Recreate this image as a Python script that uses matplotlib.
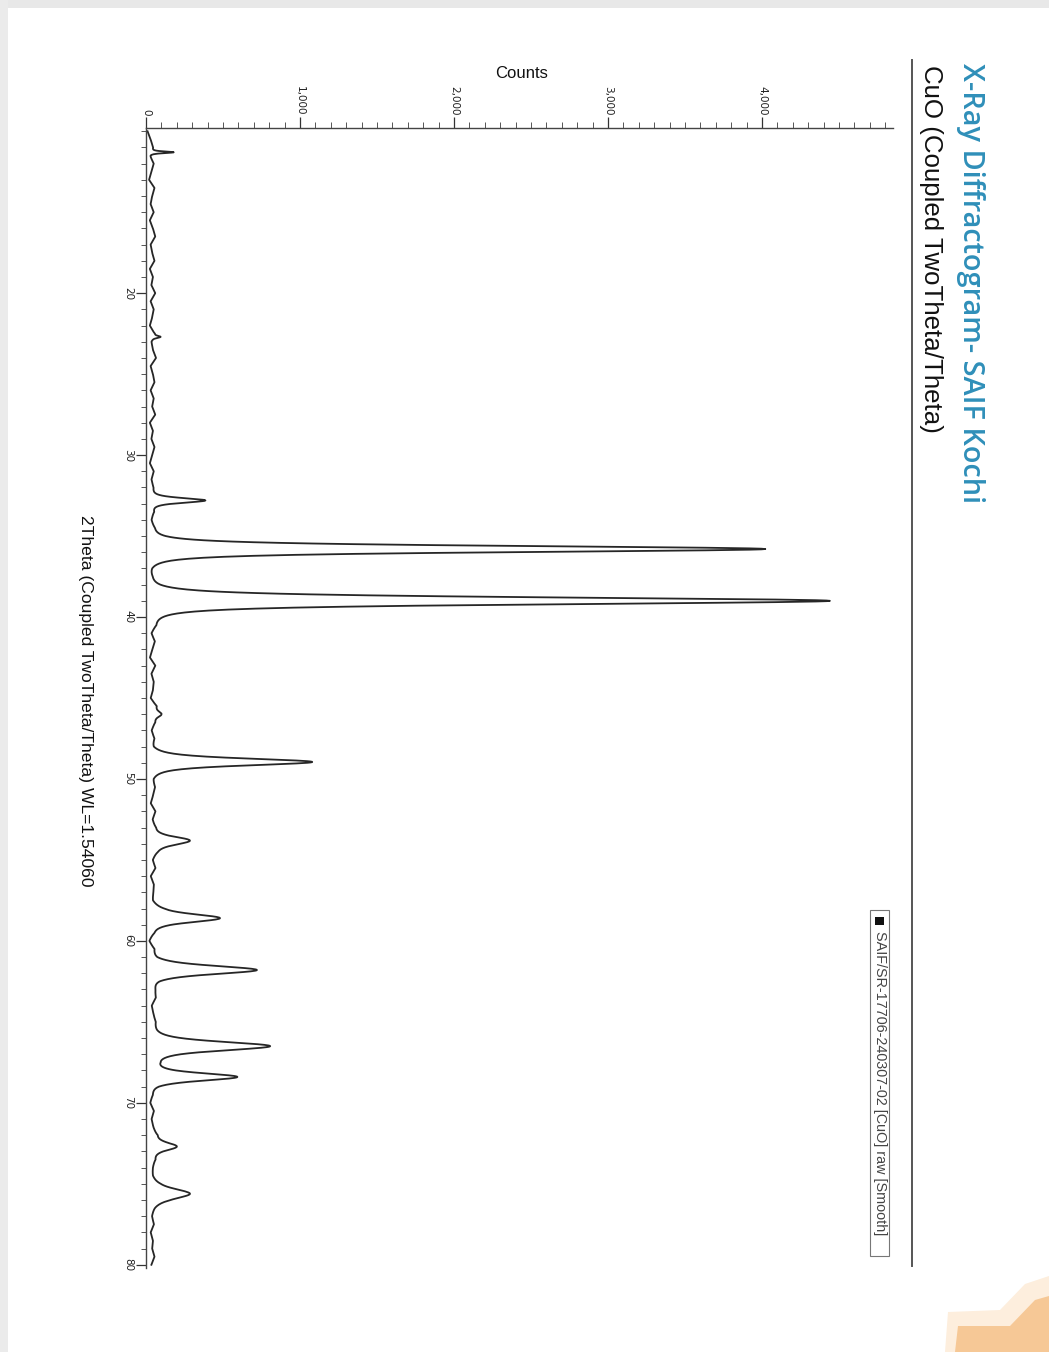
import numpy as np
import matplotlib
matplotlib.use("Agg")
import matplotlib.pyplot as plt
from matplotlib.ticker import MultipleLocator, FuncFormatter
from matplotlib.patches import Rectangle, Polygon

W, H = 1049, 1352

# Reflections of the CuO pattern: position (2theta, deg), top of peak (counts), FWHM (deg)
peak_2theta = [11.3, 22.7, 32.8, 35.8, 39.0, 46.0, 48.95, 53.8, 58.6, 61.8, 66.5, 68.4, 72.7, 75.6]
peak_counts = [180, 95, 385, 4020, 4440, 100, 1080, 285, 480, 720, 805, 590, 200, 285]
peak_fwhm = [0.12, 0.15, 0.35, 0.45, 0.50, 0.40, 0.50, 0.60, 0.60, 0.60, 0.65, 0.55, 0.60, 0.70]

# Background counts, every 0.5 deg from 10 to 80
bg_2theta = [10 + 0.5 * i for i in range(141)]
bg_counts = [10, 30, 45, 25, 50, 35, 20, 55, 40, 30,
             50, 25, 45, 60, 30, 40, 55, 25, 45, 35,
             60, 30, 50, 40, 25, 55, 35, 45, 65, 30,
             45, 55, 30, 50, 40, 60, 25, 45, 35, 55,
             40, 25, 50, 35, 45, 30, 20, 45, 30, 40,
             25, 30, 35, 15, 10, 20, 15, 25, 30, 20,
             35, 50, 30, 55, 40, 25, 60, 35, 50, 45,
             30, 65, 40, 55, 35, 50, 30, 45, 60, 40,
             35, 55, 45, 30, 60, 40, 50, 25, 45, 55,
             40, 60, 30, 50, 45, 35, 55, 40, 20, 35,
             15, 45, 30, 55, 40, 25, 50, 60, 35, 45,
             55, 40, 30, 35, 25, 45, 30, 40, 20, 35,
             25, 50, 35, 45, 60, 30, 25, 50, 40, 35,
             45, 30, 55, 40, 35, 50, 30, 45, 40, 55,
             35]

count_ticks = [0, 1000, 2000, 3000, 4000]
theta_ticks = [20, 30, 40, 50, 60, 70, 80]

title = "X-Ray Diffractogram- SAIF Kochi"
subtitle = "CuO (Coupled TwoTheta/Theta)"
xlabel = "2Theta (Coupled TwoTheta/Theta) WL=1.54060"
ylabel = "Counts"
legend_label = "SAIF/SR-17706-240307-02 [CuO] raw [Smooth]"

# Build the diffractogram: Pearson VII profiles on top of the background
tt = np.arange(10.0, 80.001, 0.02)
bg = np.interp(tt, bg_2theta, bg_counts)
profile = bg.copy()
m = 2.0
k = 2 ** (1 / m) - 1
for pos, top, w in zip(peak_2theta, peak_counts, peak_fwhm):
    amp = top - np.interp(pos, bg_2theta, bg_counts)
    profile += amp * (1 + k * (2 * (tt - pos) / w) ** 2) ** (-m)

fig = plt.figure(figsize=(W / 100, H / 100), dpi=100)
fig.patch.set_facecolor("white")


def fx(x):
    return x / W


def fy(y):
    return 1 - y / H


# page edges
fig.patches.append(Rectangle((0, fy(8)), 1, 8 / H, transform=fig.transFigure,
                             facecolor="#e8e8e8", edgecolor="none", zorder=0))
fig.patches.append(Rectangle((0, 0), 8 / W, 1, transform=fig.transFigure,
                             facecolor="#ebebeb", edgecolor="none", zorder=0))
# logo corner
halo = [(945, 1352), (948, 1312), (1000, 1310), (1025, 1284), (1049, 1276), (1049, 1352)]
fig.patches.append(Polygon([(fx(x), fy(y)) for x, y in halo], closed=True,
                           transform=fig.transFigure, facecolor="#fdeedd",
                           edgecolor="none", zorder=0))
logo = [(955, 1352), (958, 1326), (1010, 1326), (1035, 1300), (1049, 1296), (1049, 1352)]
fig.patches.append(Polygon([(fx(x), fy(y)) for x, y in logo], closed=True,
                           transform=fig.transFigure, facecolor="#f6c896",
                           edgecolor="none", zorder=0))

# plot area (counts run horizontally, 2theta downwards)
left, right, top, bottom = 146, 893, 128, 1268
ax = fig.add_axes([fx(left), fy(bottom), (right - left) / W, (bottom - top) / H])
ax.patch.set_alpha(0)
ax.plot(profile, tt, color="#262626", lw=1.3)
ax.set_xlim(0, 4850)
ax.set_ylim(80.2, 9.8)

for s in ("right", "bottom"):
    ax.spines[s].set_visible(False)
for s in ("left", "top"):
    ax.spines[s].set_color("#444444")
    ax.spines[s].set_linewidth(1.0)

ax.xaxis.tick_top()
ax.set_xticks(count_ticks)
ax.xaxis.set_major_formatter(FuncFormatter(lambda v, p: f"{int(v):,}"))
ax.xaxis.set_minor_locator(MultipleLocator(100))
ax.tick_params(axis="x", which="major", direction="out", length=8, width=0.9,
               colors="#333333", labelsize=7.5, pad=1, labelrotation=-90)
ax.tick_params(axis="x", which="minor", direction="out", length=4, width=0.7, colors="#555555")
for lbl in ax.get_xticklabels():
    lbl.set_va("bottom")
    lbl.set_ha("center")
    lbl.set_color("#222222")

ax.set_yticks(theta_ticks)
ax.yaxis.set_minor_locator(MultipleLocator(1))
ax.tick_params(axis="y", which="major", direction="out", length=7, width=0.9,
               colors="#333333", labelsize=7.5, pad=2, labelrotation=-90)
ax.tick_params(axis="y", which="minor", direction="out", length=3.5, width=0.7, colors="#555555")
for lbl in ax.get_yticklabels():
    lbl.set_va("center")
    lbl.set_ha("right")
    lbl.set_color("#222222")

# titles and axis captions
fig.text(fx(970), fy(63), title, rotation=-90, ha="center", va="top",
         color="#2f8fb9", fontsize=20.8, fontweight="semibold", family="Open Sans")
fig.text(fx(931), fy(65), subtitle, rotation=-90, ha="center", va="top",
         color="#111111", fontsize=18.6, family="Liberation Sans")
fig.add_artist(plt.Line2D([fx(912), fx(912)], [fy(60), fy(1266)], transform=fig.transFigure,
                          color="#555555", lw=1.4))
fig.text(fx(522), fy(73), ylabel, ha="center", va="center", fontsize=12,
         family="Liberation Sans", color="#111111")
fig.text(fx(85), fy(701), xlabel, rotation=-90, ha="center", va="center", fontsize=12.6,
         family="Liberation Sans", color="#111111")

# legend box
fig.patches.append(Rectangle((fx(870), fy(1256)), 19 / W, (1256 - 910) / H,
                             transform=fig.transFigure, facecolor="white",
                             edgecolor="#777777", lw=0.8))
fig.patches.append(Rectangle((fx(875), fy(925)), 9 / W, 8 / H,
                             transform=fig.transFigure, facecolor="#111111", edgecolor="none"))
fig.text(fx(880), fy(931), legend_label, rotation=-90, ha="center", va="top",
         fontsize=10.4, family="Liberation Sans", color="#444444")

fig.savefig("out.png", dpi=100)
